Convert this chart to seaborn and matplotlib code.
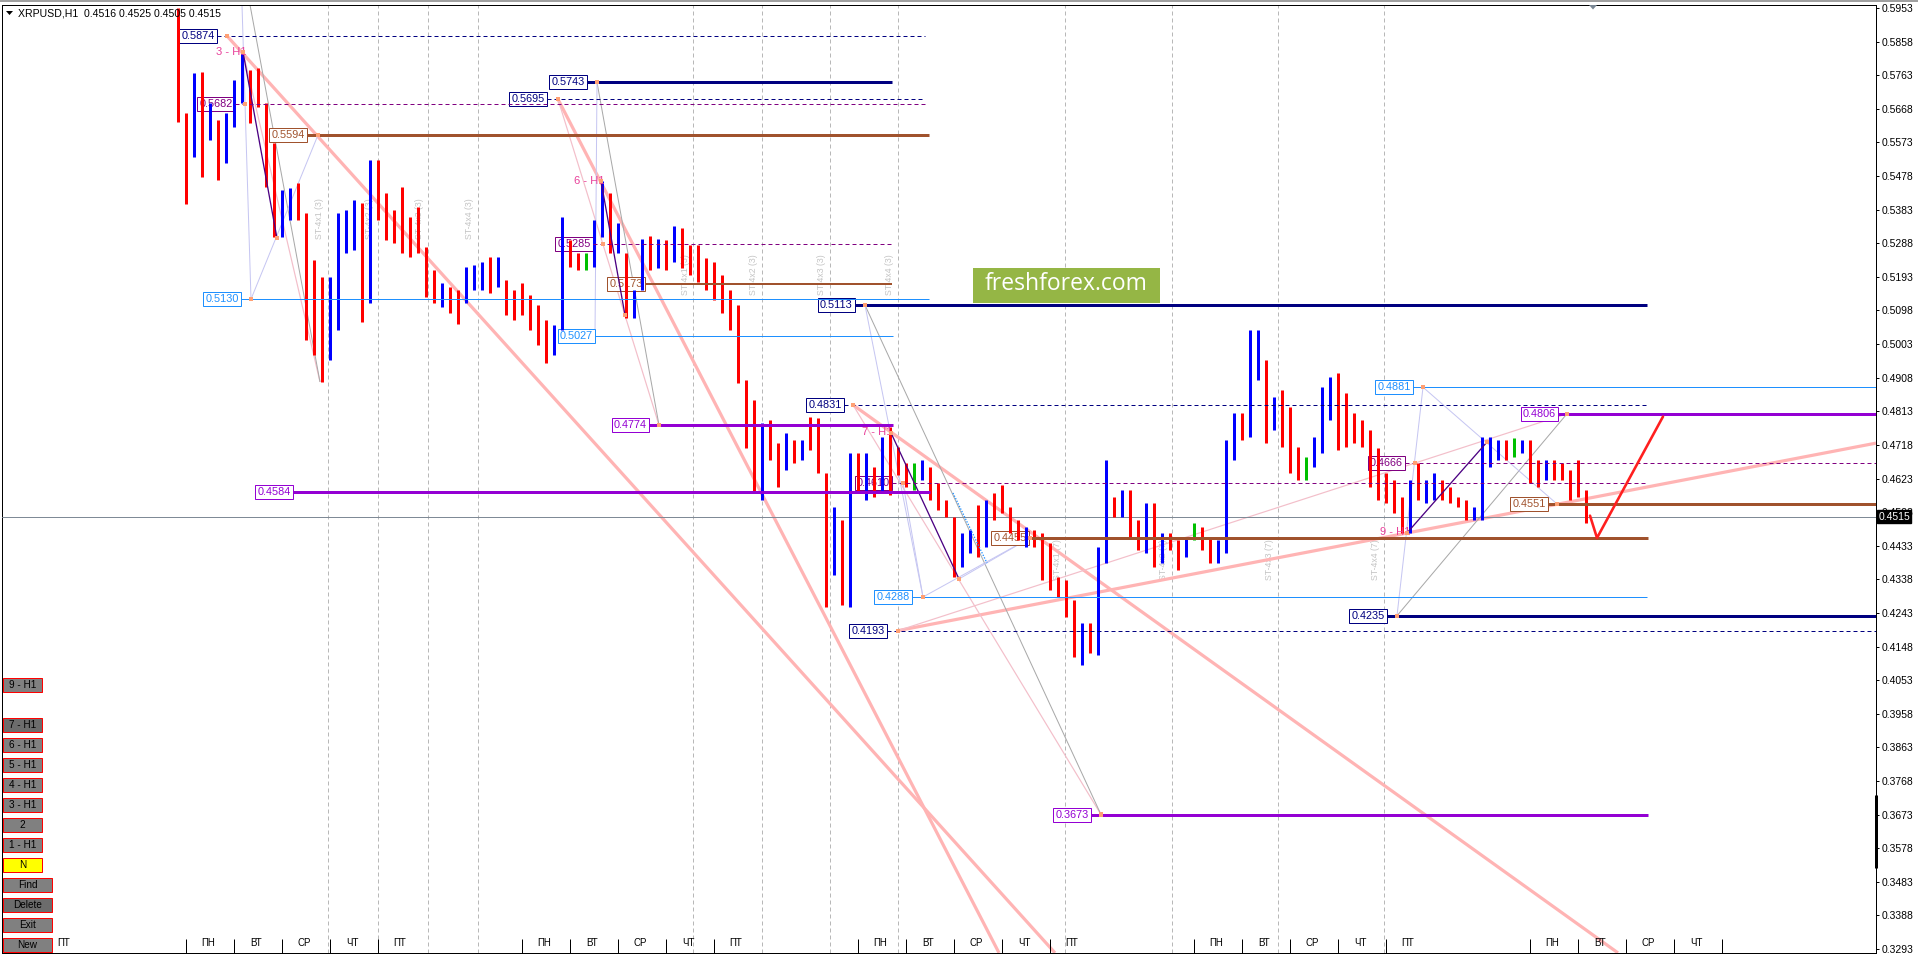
import numpy as np
import matplotlib
matplotlib.use("Agg")
import matplotlib.pyplot as plt
from matplotlib.patches import Rectangle, Polygon
import seaborn as sns

sns.set_style("white")
plt.rcParams['font.family'] = ['Liberation Sans', 'DejaVu Sans']

PX = 0.72  # points per pixel at dpi 100

# ---------------- data ----------------
# 4-hour bars, x = hours from the first full Monday 00:00
bar_hour = np.arange(-4, 704, 4)
bar_high = [
    0.5953, 0.5656, 0.5770, 0.5772, 0.5684, 0.5636, 0.5656, 0.5749, 0.5834, 0.5778,
    0.5783, 0.5684, 0.5571, 0.5438, 0.5444, 0.5458, 0.5374, 0.5240, 0.5192, 0.5192,
    0.5374, 0.5382, 0.5410, 0.5402, 0.5523, 0.5523, 0.5430, 0.5382, 0.5447, 0.5362,
    0.5390, 0.5277, 0.5212, 0.5176, 0.5164, 0.5156, 0.5221, 0.5226, 0.5235, 0.5249,
    0.5249, 0.5184, 0.5156, 0.5176, 0.5142, 0.5113, 0.5071, 0.5057, 0.5362, 0.5297,
    0.5260, 0.5260, 0.5354, 0.5464, 0.5430, 0.5345, 0.5260, 0.5156, 0.5300, 0.5308,
    0.5300, 0.5297, 0.5337, 0.5331, 0.5283, 0.5283, 0.5246, 0.5235, 0.5198, 0.5156,
    0.5113, 0.4901, 0.4845, 0.4780, 0.4788, 0.4723, 0.4752, 0.4732, 0.4732, 0.4797,
    0.4794, 0.4639, 0.4543, 0.4506, 0.4695, 0.4695, 0.4695, 0.4655, 0.4740, 0.4769,
    0.4712, 0.4667, 0.4667, 0.4675, 0.4655, 0.4610, 0.4562, 0.4514, 0.4469, 0.4477,
    0.4548, 0.4562, 0.4582, 0.4605, 0.4543, 0.4506, 0.4486, 0.4477, 0.4469, 0.4441,
    0.4345, 0.4336, 0.4280, 0.4215, 0.4215, 0.4429, 0.4675, 0.4571, 0.4590, 0.4590,
    0.4506, 0.4554, 0.4554, 0.4469, 0.4469, 0.4449, 0.4458, 0.4497, 0.4486, 0.4458,
    0.4449, 0.4732, 0.4808, 0.4808, 0.5043, 0.5043, 0.4958, 0.4853, 0.4873, 0.4825,
    0.4712, 0.4684, 0.4740, 0.4882, 0.4910, 0.4921, 0.4865, 0.4808, 0.4788, 0.4760,
    0.4709, 0.4639, 0.4619, 0.4571, 0.4619, 0.4667, 0.4619, 0.4639, 0.4619, 0.4599,
    0.4571, 0.4562, 0.4543, 0.4740, 0.4740, 0.4732, 0.4732, 0.4737, 0.4732, 0.4732,
    0.4675, 0.4675, 0.4675, 0.4667, 0.4647, 0.4675, 0.4590,
]
bar_low = [
    0.5630, 0.5399, 0.5532, 0.5476, 0.5580, 0.5467, 0.5515, 0.5617, 0.5684, 0.5628,
    0.5673, 0.5447, 0.5306, 0.5306, 0.5354, 0.5354, 0.5014, 0.4972, 0.4896, 0.4958,
    0.5043, 0.5260, 0.5269, 0.5065, 0.5119, 0.5354, 0.5297, 0.5289, 0.5260, 0.5249,
    0.5260, 0.5136, 0.5119, 0.5108, 0.5091, 0.5060, 0.5119, 0.5156, 0.5156, 0.5147,
    0.5164, 0.5085, 0.5071, 0.5085, 0.5043, 0.5000, 0.4949, 0.4972, 0.5043, 0.5221,
    0.5212, 0.5212, 0.5221, 0.5306, 0.5260, 0.5260, 0.5077, 0.5077, 0.5156, 0.5212,
    0.5218, 0.5212, 0.5235, 0.5218, 0.5198, 0.5178, 0.5156, 0.5127, 0.5091, 0.5043,
    0.4893, 0.4709, 0.4585, 0.4562, 0.4675, 0.4599, 0.4647, 0.4667, 0.4675, 0.4704,
    0.4639, 0.4260, 0.4350, 0.4265, 0.4260, 0.4582, 0.4562, 0.4571, 0.4582, 0.4576,
    0.4633, 0.4599, 0.4590, 0.4619, 0.4562, 0.4534, 0.4514, 0.4345, 0.4373, 0.4412,
    0.4401, 0.4429, 0.4506, 0.4526, 0.4469, 0.4449, 0.4429, 0.4429, 0.4336, 0.4308,
    0.4288, 0.4231, 0.4118, 0.4096, 0.4130, 0.4124, 0.4384, 0.4514, 0.4514, 0.4458,
    0.4421, 0.4412, 0.4373, 0.4384, 0.4421, 0.4364, 0.4401, 0.4449, 0.4421, 0.4384,
    0.4384, 0.4412, 0.4675, 0.4732, 0.4740, 0.4901, 0.4723, 0.4760, 0.4712, 0.4639,
    0.4619, 0.4619, 0.4655, 0.4695, 0.4788, 0.4704, 0.4712, 0.4723, 0.4712, 0.4599,
    0.4562, 0.4554, 0.4526, 0.4469, 0.4469, 0.4562, 0.4554, 0.4562, 0.4562, 0.4554,
    0.4543, 0.4506, 0.4506, 0.4506, 0.4655, 0.4675, 0.4675, 0.4684, 0.4695, 0.4610,
    0.4599, 0.4619, 0.4619, 0.4619, 0.4562, 0.4571, 0.4497,
]
# u = up bar (blue), d = down bar (red), g = unchanged (green)
bar_dir = "".join("""
ddududuuud ddduuddddu uuududdddd dddudduuud udddddduud
dguududuud ududdddddd ddduddudud ddudududud ddgudddduu
dudddduddd ddduduudud dududdugdd uuuduududd dguuuddddd
dddduduudd dduuuudgud duddddd
""".split())

symbol = "XRPUSD,H1"
header_ohlc = ["0.4516", "0.4525", "0.4505", "0.4515"]
last_price = 0.4515

price_ticks = [0.5953, 0.5858, 0.5763, 0.5668, 0.5573, 0.5478, 0.5383, 0.5288,
               0.5193, 0.5098, 0.5003, 0.4908, 0.4813, 0.4718, 0.4623, 0.4528,
               0.4433, 0.4338, 0.4243, 0.4148, 0.4053, 0.3958, 0.3863, 0.3768,
               0.3673, 0.3578, 0.3483, 0.3388, 0.3293]

# horizontal levels: price, first hour, last hour, style
level_price = [0.5874, 0.5743, 0.5695, 0.5682, 0.5594, 0.5285, 0.5173, 0.5130,
               0.5027, 0.5113, 0.4881, 0.4831, 0.4806, 0.4774, 0.4666, 0.4610,
               0.4584, 0.4551, 0.4455, 0.4288, 0.4235, 0.4193, 0.3673]
level_from = [15.5, 200.5, 180.5, 24.5, 60.5, 203.5, 229.5, 27.5,
              204.5, 334.5, 613.5, 329, 686, 231.5, 609.5, 353,
              53.5, 681, 421.5, 363, 600.5, 350.5, 452.5]
level_to = [369.5, 353, 369.5, 369.5, 371.5, 353, 353, 371.5,
            353.5, 730.5, 845, 730.5, 845, 353.5, 845, 730.5,
            372, 845, 731, 730.5, 845, 845, 731]
level_kind = ["navy_dash", "navy", "navy_dash", "purple_dash", "sienna", "purple_dash", "sienna_mid", "blue",
              "blue", "navy", "blue", "navy_dash", "violet", "violet", "purple_dash", "purple_dash",
              "violet", "sienna", "sienna", "blue", "navy", "navy_dash", "violet"]

# trend lines (hour, price) pairs
thick_pink = [((20.5, 0.5874), (434.5, 0.3282)),
              ((186, 0.5695), (406.5, 0.3282)),
              ((333.5, 0.4831), (716, 0.3282)),
              ((356, 0.4193), (845, 0.4723))]
thin_pink = [((356, 0.4193), (690.5, 0.4806)),
             ((28.5, 0.5829), (67, 0.4896)),
             ((186, 0.5695), (236.5, 0.4774)),
             ((333.5, 0.4831), (457.5, 0.3673))]
thin_gray = [((32, 0.5962), (67, 0.4896)),
             ((205.5, 0.5743), (236.5, 0.4774)),
             ((339.5, 0.5113), (457.5, 0.3673)),
             ((605.5, 0.4235), (690.5, 0.4806))]
lavender = [((28, 0.5962), (32.5, 0.5130)),
            ((32.5, 0.5130), (66, 0.5594)),
            ((205.5, 0.5743), (204.5, 0.5027)),
            ((339.5, 0.5113), (368.5, 0.4288)),
            ((358.5, 0.4610), (368.5, 0.4288)),
            ((368.5, 0.4288), (422, 0.4455)),
            ((386.5, 0.4339), (422, 0.4455)),
            ((605.5, 0.4235), (618.5, 0.4881)),
            ((618.5, 0.4881), (685.5, 0.4551))]
wave = [((28.5, 0.5829), (45.5, 0.5302)),
        ((207.5, 0.5464), (219.5, 0.5085)),
        ((352.5, 0.4752), (386.5, 0.4339)),
        ((610.5, 0.4469), (650.5, 0.4726))]
dotted_blue = [((383.5, 0.4582), (400.5, 0.4384))]

anchor_hour = [20.5, 28.5, 29.5, 45.5, 32.5, 66, 186, 205.5, 207.5, 208.5, 219.5,
               236.5, 333.5, 339.5, 352.5, 358.5, 368.5, 386.5, 422, 356, 457.5,
               605.5, 610.5, 618.5, 614.5, 650.5, 685.5, 690.5]
anchor_price = [0.5874, 0.5829, 0.5682, 0.5302, 0.5130, 0.5594, 0.5695, 0.5743, 0.5464,
                0.5285, 0.5085, 0.4774, 0.4831, 0.5113, 0.4752, 0.4610, 0.4288, 0.4339,
                0.4455, 0.4193, 0.3673, 0.4235, 0.4469, 0.4881, 0.4666, 0.4726, 0.4551,
                0.4806]

wave_names = ["3 - H1", "6 - H1", "7 - H1", "9 - H1"]
wave_name_hour = [30.5, 209, 353, 612]
wave_name_price = [0.5829, 0.5464, 0.4754, 0.4472]

# projected path
proj_hour = [702, 705.5, 738.5]
proj_price = [0.4518, 0.4455, 0.4798]

# vertical time marks and their captions
mark_hour = [71, 96, 121, 146, 253.5, 288, 322, 356, 439.5, 493, 546, 599]
mark_text = ["ST-4x1 (3)", "ST-4x2 (3)", "ST-4x3 (3)", "ST-4x4 (3)",
             "ST-4x1 (3)", "ST-4x2 (3)", "ST-4x3 (3)", "ST-4x4 (3)",
             "ST-4x1 (7)", "ST-4x2 (7)", "ST-4x3 (7)", "ST-4x4 (7)"]
mark_text_price = [0.5357] * 4 + [0.5200] * 4 + [0.4393] * 4

day_names = ["ПН", "ВТ", "СР", "ЧТ", "ПТ"]
week_start = [-168, 0, 168, 336, 504, 672]

buttons = ["9 - H1", "7 - H1", "6 - H1", "5 - H1", "4 - H1", "3 - H1", "2",
           "1 - H1", "N", "Find", "Delete", "Exit", "New"]
button_row = [0, 2, 3, 4, 5, 6, 7, 8, 9, 10, 11, 12, 13]

# ---------------- styles ----------------
styles = {
    "navy_dash": ("#000080", 1.0, True),
    "navy": ("#000080", 3.0, False),
    "purple_dash": ("#800080", 1.0, True),
    "violet": ("#9400D3", 3.0, False),
    "sienna": ("#A0522D", 3.0, False),
    "sienna_mid": ("#A0522D", 2.0, False),
    "blue": ("#1E90FF", 1.0, False),
}
bar_colors = {"u": "#0000ff", "d": "#ff0000", "g": "#00c000"}

fig = plt.figure(figsize=(19.18, 9.57), dpi=100)
fig.patch.set_facecolor("white")
ax = fig.add_axes([2 / 1918, 4 / 957, 1874 / 1918, 948 / 957])
ax.set_xlim(-92, 845)
ax.set_ylim(0.32817, 0.59615)
ax.set_facecolor("white")
xaxis_tr = ax.get_xaxis_transform()

# vertical dashed marks
ax.vlines(mark_hour, 0, 1, transform=xaxis_tr, colors="#b8b8b8", lw=PX,
          linestyles=[(0, (4, 3))], zorder=1)
for h, t, p in zip(mark_hour, mark_text, mark_text_price):
    ax.text(h - 4, p, t, rotation=90, ha="center", va="center", fontsize=6.3,
            color="#c4c4c4", zorder=1.2)

# trend lines
def draw_lines(segs, color, lw, ls="-", z=2):
    for (h1, p1), (h2, p2) in segs:
        ax.plot([h1, h2], [p1, p2], color=color, lw=lw * PX, ls=ls, zorder=z,
                solid_capstyle="butt")

draw_lines(thick_pink, "#ffb4b4", 3.2, z=1.8)
draw_lines(thin_pink, "#f3bfca", 1.2)
draw_lines(thin_gray, "#a8a8a8", 1.0)
draw_lines(lavender, "#c6c6f2", 1.0)
draw_lines(wave, "#4b0082", 1.3, z=3.2)
draw_lines(dotted_blue, "#1E90FF", 1.3, ls=(0, (1, 1.2)), z=3.2)

# level labels and lines
for p, s, e, k in zip(level_price, level_from, level_to, level_kind):
    c, lw, dashed = styles[k]
    ls = (0, (4, 3)) if dashed else "-"
    ax.plot([s, e], [p, p], color=c, lw=lw * PX, ls=ls, zorder=3.5,
            solid_capstyle="butt")
    ax.text(s - 1.2, p, f"{p:.4f}", ha="right", va="center", fontsize=7.8,
            color=c, zorder=2.5,
            bbox=dict(boxstyle="square,pad=0.18", fc="white", ec=c, lw=PX))

# current price line
ax.axhline(last_price, color="#7f8a96", lw=PX, zorder=2.8)

# price bars
ax.vlines(bar_hour, bar_low, bar_high, colors=[bar_colors[c] for c in bar_dir],
          lw=3 * PX, zorder=3)

# anchor points
sns.scatterplot(x=anchor_hour, y=anchor_price, marker="s", s=9, color="#ffa074",
                edgecolor="none", ax=ax, zorder=5, legend=False)

for t, h, p in zip(wave_names, wave_name_hour, wave_name_price):
    ax.text(h, p, t, ha="right", va="center", fontsize=8, color="#e8409a", zorder=4)

# projected path
sns.lineplot(x=proj_hour, y=proj_price, sort=False, estimator=None, color="#ff1f1f",
             lw=2.6 * PX, ax=ax, zorder=6)

# right price scale
ax.yaxis.tick_right()
ax.set_yticks(price_ticks)
ax.set_yticklabels([f"{v:.4f}" for v in price_ticks])
ax.tick_params(axis="y", direction="out", length=3 * PX, width=PX, pad=2.5 * PX,
               labelsize=7.5, colors="black")
ax.set_xticks(np.arange(-91, 845, 32))
ax.tick_params(axis="x", direction="out", length=4 * PX, width=PX, labelbottom=False)
for sp in ax.spines.values():
    sp.set_color("black")
    sp.set_linewidth(PX)
ax.grid(False)

ax.text(1.0012, last_price, f"{last_price:.4f}", transform=ax.get_yaxis_transform(),
        ha="left", va="center", fontsize=7.5, color="white", zorder=10, clip_on=False,
        bbox=dict(boxstyle="square,pad=0.12", fc="black", ec="black"))

# day captions along the bottom
xmin, xmax = ax.get_xlim()
sep_h = []
for ws in week_start:
    for k, name in enumerate(day_names):
        start = ws + 24 * k
        if start + 11 < xmin:
            continue
        sep_h.append(start)
        if ws == week_start[-1] and k == 4:
            continue
        ax.text(start + 11, 10 / 948, name, transform=xaxis_tr, ha="center",
                va="center", fontsize=7, color="black", zorder=4)
ax.vlines(sep_h, 0, 14 / 948, transform=xaxis_tr, colors="black", lw=PX, zorder=4)

# ---------------- overlay in pixel space ----------------
ov = fig.add_axes([0, 0, 1, 1], zorder=10)
ov.set_xlim(0, 1918)
ov.set_ylim(957, 0)
ov.axis("off")
ov.patch.set_alpha(0)

ov.plot([0, 1918], [0.8, 0.8], color="#a0a0a0", lw=2 * PX)
ov.add_patch(Polygon([[6, 11], [13, 11], [9.5, 15]], closed=True, fc="black", ec="none"))
ov.text(18, 13, f"{symbol}  " + " ".join(header_ohlc), ha="left", va="center",
        fontsize=7.6, color="black")

ov.add_patch(Polygon([[1589, 5], [1597, 5], [1593, 9.5]], closed=True, fc="#7a8794", ec="none"))
ov.plot([1876, 1876], [795, 868], color="black", lw=3 * PX, solid_capstyle="butt")

ov.add_patch(Rectangle((973, 268), 187, 35, fc="#95b645", ec="none"))
ov.text(1066.5, 284, "freshforex.com", ha="center", va="center", fontsize=16.5,
        color="white", family=["Open Sans", "DejaVu Sans"])

for name, row in zip(buttons, button_row):
    y0 = 678 + 20 * row
    w = 49 if row >= 10 else 39
    fc = "#ffff00" if name == "N" else ("#6c6c6c" if name in ("7 - H1", "Delete") else "#808080")
    ov.add_patch(Rectangle((3, y0), w, 14, fc=fc, ec="#ff0000", lw=PX))
    ov.text(3 + w / 2, y0 + 7.5, name, ha="center", va="center", fontsize=7.2, color="black")

fig.savefig("out.png", dpi=100, facecolor="white")
